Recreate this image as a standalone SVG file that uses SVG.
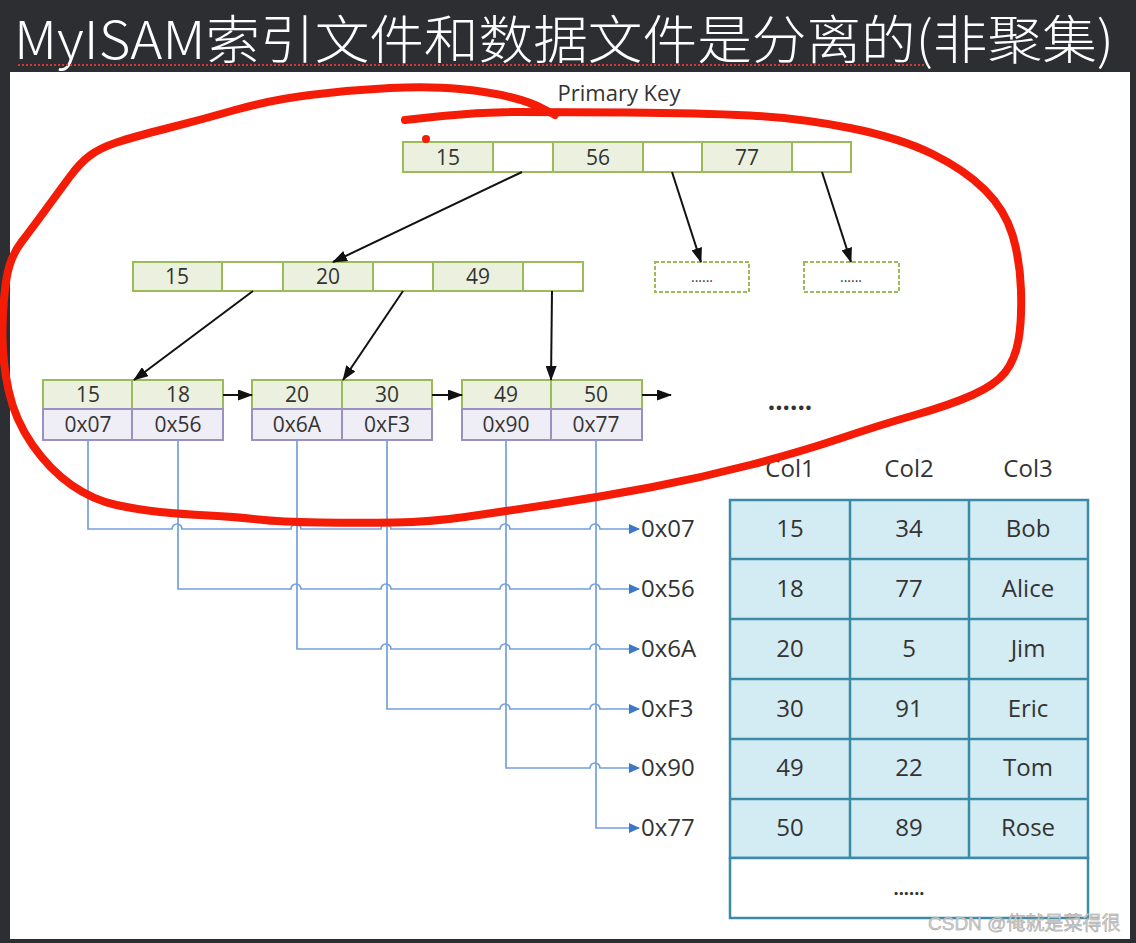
<svg xmlns="http://www.w3.org/2000/svg" width="1136" height="943" viewBox="0 0 1136 943">
<defs>
<style>
.t{font-family:"Open Sans","Noto Sans","Liberation Sans",sans-serif;fill:#333;text-anchor:middle}
.s{text-anchor:start}
.k{fill:#ebf1de;stroke:#9bbb59;stroke-width:2}
.w{fill:#fff;stroke:#9bbb59;stroke-width:2}
.p{fill:#efedf5;stroke:#9c8fc2;stroke-width:2}
.d{fill:#fff;stroke:#9bbb59;stroke-width:2;stroke-dasharray:4 2}
.a{fill:none;stroke:#111;stroke-width:2}
.b{fill:none;stroke:#74a0dc;stroke-width:1.7}
.c{fill:#d3ebf3;stroke:#3b8aa6;stroke-width:2.5}
.tv{font-size:21px}
.tb{font-size:24px}
</style>
<marker id="ah" markerWidth="15" markerHeight="11" refX="14" refY="5.5" orient="auto" markerUnits="userSpaceOnUse">
<path d="M0,0 L15,5.5 L0,11 Z" fill="#111"/>
</marker>
<marker id="bh" markerWidth="11" markerHeight="10" refX="10" refY="5" orient="auto" markerUnits="userSpaceOnUse">
<path d="M0,0 L11,5 L0,10 Z" fill="#3b78c9"/>
</marker>
</defs>
<rect x="0" y="0" width="1136" height="943" fill="#2c2e32"/>
<rect x="10" y="72" width="1120" height="867" fill="#fff"/>
<text x="14" y="59" font-family="'Noto Sans CJK SC','Noto Sans',sans-serif" font-weight="300" font-size="52" fill="#fff" textLength="1100" lengthAdjust="spacingAndGlyphs">MyISAM索引文件和数据文件是分离的(非聚集)</text>
<line x1="18" y1="65" x2="924" y2="65" stroke="#d43a2f" stroke-width="2" stroke-dasharray="2 2"/>

<text class="t" x="619" y="101" font-size="22">Primary Key</text>

<g id="root">
<rect class="k" x="403" y="142" width="90" height="30"/>
<rect class="w" x="493" y="142" width="60" height="30"/>
<rect class="k" x="553" y="142" width="90" height="30"/>
<rect class="w" x="643" y="142" width="59" height="30"/>
<rect class="k" x="702" y="142" width="90" height="30"/>
<rect class="w" x="792" y="142" width="59" height="30"/>
<text class="t tv" x="448" y="164.5">15</text>
<text class="t tv" x="598" y="164.5">56</text>
<text class="t tv" x="747" y="164.5">77</text>
</g>

<g id="mid">
<rect class="k" x="133" y="262" width="89" height="29"/>
<rect class="w" x="222" y="262" width="61" height="29"/>
<rect class="k" x="283" y="262" width="90" height="29"/>
<rect class="w" x="373" y="262" width="60" height="29"/>
<rect class="k" x="433" y="262" width="90" height="29"/>
<rect class="w" x="523" y="262" width="60" height="29"/>
<text class="t tv" x="177" y="284">15</text>
<text class="t tv" x="328" y="284">20</text>
<text class="t tv" x="478" y="284">49</text>
</g>

<g id="more1">
<rect class="d" x="655" y="262" width="94" height="30"/>
<text class="t" x="702" y="282" font-size="14">......</text>
</g>
<g id="more2">
<rect class="d" x="804" y="262" width="95" height="30"/>
<text class="t" x="851" y="282" font-size="14">......</text>
</g>

<g id="leaf1">
<rect class="k" x="43" y="380" width="89" height="29"/>
<rect class="k" x="132" y="380" width="91" height="29"/>
<rect class="p" x="43" y="409" width="89" height="31"/>
<rect class="p" x="132" y="409" width="91" height="31"/>
<text class="t tv" x="88" y="402">15</text>
<text class="t tv" x="178" y="402">18</text>
<text class="t tv" x="88" y="432">0x07</text>
<text class="t tv" x="178" y="432">0x56</text>
</g>
<g id="leaf2">
<rect class="k" x="252" y="380" width="90" height="29"/>
<rect class="k" x="342" y="380" width="90" height="29"/>
<rect class="p" x="252" y="409" width="90" height="31"/>
<rect class="p" x="342" y="409" width="90" height="31"/>
<text class="t tv" x="297" y="402">20</text>
<text class="t tv" x="387" y="402">30</text>
<text class="t tv" x="297" y="432">0x6A</text>
<text class="t tv" x="387" y="432">0xF3</text>
</g>
<g id="leaf3">
<rect class="k" x="462" y="380" width="89" height="29"/>
<rect class="k" x="551" y="380" width="91" height="29"/>
<rect class="p" x="462" y="409" width="89" height="31"/>
<rect class="p" x="551" y="409" width="91" height="31"/>
<text class="t tv" x="506" y="402">49</text>
<text class="t tv" x="596" y="402">50</text>
<text class="t tv" x="506" y="432">0x90</text>
<text class="t tv" x="596" y="432">0x77</text>
</g>
<text class="t" x="790" y="410" font-size="26" font-weight="bold" fill="#111">......</text>

<g id="tree-connectors">
<line class="a" x1="522" y1="172" x2="333" y2="262" marker-end="url(#ah)"/>
<line class="a" x1="672" y1="172" x2="701" y2="262" marker-end="url(#ah)"/>
<line class="a" x1="822" y1="172" x2="851" y2="262" marker-end="url(#ah)"/>
<line class="a" x1="253" y1="291" x2="134" y2="380" marker-end="url(#ah)"/>
<line class="a" x1="403" y1="291" x2="343" y2="380" marker-end="url(#ah)"/>
<line class="a" x1="552" y1="291" x2="551" y2="380" marker-end="url(#ah)"/>
<line class="a" x1="223" y1="395" x2="252" y2="395" marker-end="url(#ah)"/>
<line class="a" x1="432" y1="395" x2="462" y2="395" marker-end="url(#ah)"/>
<line class="a" x1="642" y1="395" x2="671" y2="395" marker-end="url(#ah)"/>
</g>

<g id="pointer-connectors">
<path class="b" d="M88,440 V529 H172 A5 5 0 0 1 182,529 H291 A5 5 0 0 1 301,529 H381 A5 5 0 0 1 391,529 H500 A5 5 0 0 1 510,529 H590 A5 5 0 0 1 600,529 H639" marker-end="url(#bh)"/>
<path class="b" d="M178,440 V589 H291 A5 5 0 0 1 301,589 H381 A5 5 0 0 1 391,589 H500 A5 5 0 0 1 510,589 H590 A5 5 0 0 1 600,589 H639" marker-end="url(#bh)"/>
<path class="b" d="M297,440 V649 H381 A5 5 0 0 1 391,649 H500 A5 5 0 0 1 510,649 H590 A5 5 0 0 1 600,649 H639" marker-end="url(#bh)"/>
<path class="b" d="M387,440 V709 H500 A5 5 0 0 1 510,709 H590 A5 5 0 0 1 600,709 H639" marker-end="url(#bh)"/>
<path class="b" d="M506,440 V768 H590 A5 5 0 0 1 600,768 H639" marker-end="url(#bh)"/>
<path class="b" d="M596,440 V828 H639" marker-end="url(#bh)"/>
</g>

<g id="addresses">
<text class="t tb s" x="641" y="537">0x07</text>
<text class="t tb s" x="641" y="597">0x56</text>
<text class="t tb s" x="641" y="657">0x6A</text>
<text class="t tb s" x="641" y="717">0xF3</text>
<text class="t tb s" x="641" y="776">0x90</text>
<text class="t tb s" x="641" y="836">0x77</text>
</g>

<g id="table">
<text class="t tb" x="790" y="477">Col1</text>
<text class="t tb" x="909" y="477">Col2</text>
<text class="t tb" x="1028" y="477">Col3</text>
<rect class="c" x="730" y="500" width="358" height="358"/>
<line class="c" x1="850" y1="500" x2="850" y2="858"/>
<line class="c" x1="969" y1="500" x2="969" y2="858"/>
<line class="c" x1="730" y1="559" x2="1088" y2="559"/>
<line class="c" x1="730" y1="619" x2="1088" y2="619"/>
<line class="c" x1="730" y1="679" x2="1088" y2="679"/>
<line class="c" x1="730" y1="739" x2="1088" y2="739"/>
<line class="c" x1="730" y1="799" x2="1088" y2="799"/>
<rect x="730" y="858" width="358" height="60" fill="#fff" stroke="#3b8aa6" stroke-width="2.5"/>
<text class="t tb" x="790" y="537">15</text><text class="t tb" x="909" y="537">34</text><text class="t tb" x="1028" y="537">Bob</text>
<text class="t tb" x="790" y="597">18</text><text class="t tb" x="909" y="597">77</text><text class="t tb" x="1028" y="597">Alice</text>
<text class="t tb" x="790" y="657">20</text><text class="t tb" x="909" y="657">5</text><text class="t tb" x="1028" y="657">Jim</text>
<text class="t tb" x="790" y="717">30</text><text class="t tb" x="909" y="717">91</text><text class="t tb" x="1028" y="717">Eric</text>
<text class="t tb" x="790" y="776">49</text><text class="t tb" x="909" y="776">22</text><text class="t tb" x="1028" y="776">Tom</text>
<text class="t tb" x="790" y="836">50</text><text class="t tb" x="909" y="836">89</text><text class="t tb" x="1028" y="836">Rose</text>
<text class="t" x="909" y="895" font-size="18" font-weight="bold">......</text>
</g>

<g id="annotation">
<path d="M405,120 L442.5,116 Q480,112 517.5,112 Q555,112 627.5,112.5 Q700,113 750,115.5 Q800,118 850,128 Q900,138 932.5,154 Q965,170 985,190 Q1005,210 1012.5,235 Q1020,260 1021,290 Q1022,320 1018.5,340 Q1015,360 1005,372.5 Q995,385 972.5,395 Q950,405 915,415 Q880,425 840,438.5 Q800,452 750,465 Q700,478 650,487.5 Q600,497 550,504.5 Q500,512 465,517 Q430,522 395,522.5 Q360,523 320,522.5 Q280,522 258.5,519.5 Q237,517 208.5,515.5 Q180,514 160,512 Q140,510 116.5,505 Q93,500 71.5,485 Q50,470 32.5,445 Q15,420 8.5,390 Q2,360 2.5,330 Q3,300 6.5,278.5 Q10,257 21.5,242 Q33,227 46.5,208.5 Q60,190 70,176.5 Q80,163 90,155.5 Q100,148 116.5,142.5 Q133,137 166.5,128.5 Q200,120 235,110 Q270,100 310,95 Q350,90 390,88 Q430,86 460,89 Q490,92 510,97 Q530,102 542.5,108.5 L555,115" fill="none" stroke="#f41c06" stroke-width="8" stroke-linecap="round" stroke-linejoin="round"/>
<circle cx="426" cy="139" r="4" fill="#f41c06"/>
</g>

<text x="928" y="930" font-family="'Liberation Sans','Noto Sans CJK SC',sans-serif" font-size="19" fill="#cfcfcf" stroke="#9a9a9a" stroke-width="0.4">CSDN @俺就是菜得很</text>
</svg>
